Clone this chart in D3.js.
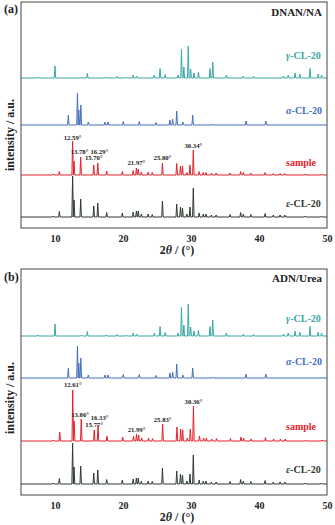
<!DOCTYPE html>
<html><head><meta charset="utf-8">
<script src="https://cdn.jsdelivr.net/npm/d3@7"></script>
<style>
html,body{margin:0;padding:0;background:#fff;}
text{font-family:"Liberation Serif","Times New Roman",serif;font-weight:bold;}
</style></head>
<body>
<svg id="chart" width="335" height="525"></svg>
<script>
// ---- data (2θ in degrees, intensity in a.u.) ----
const xTicks = [10, 20, 30, 40, 50];
const gammaPos = [7.5, 10.0, 13.9, 14.75, 17.5, 19.1, 20.5, 21.5, 22.0, 24.6, 25.45, 26.2, 28.1, 28.6, 28.95, 29.6, 29.95, 30.45, 31.1, 32.8, 33.2, 35.2, 37.7, 39.2, 43.6, 44.3, 45.3, 46.0, 47.5, 48.7, 49.2];
const gammaInt = [1, 12, 1, 4.5, 1, 1.5, 1, 3, 2, 3, 9.5, 3.5, 3, 28.5, 11, 32, 9, 5, 6, 9.5, 16, 3, 2, 1.5, 2, 3, 5, 4, 9.5, 4, 3];
const alphaPos = [11.96, 13.3, 13.5, 13.8, 14.9, 17.35, 17.8, 20.05, 22.4, 24.85, 26.9, 27.3, 27.9, 28.8, 30.25, 33.2, 38.1, 41.0];
const alphaInt = [9.7, 32, 15, 20, 3, 3, 3, 3.5, 3.5, 2.5, 5, 6, 14, 3, 10, 1, 4, 4];
const epsPos = [9.75, 10.64, 12.59, 12.8, 13.78, 15.70, 16.29, 17.6, 19.9, 21.5, 21.97, 22.25, 22.7, 23.7, 24.3, 25.80, 27.9, 28.45, 28.75, 29.4, 29.85, 30.34, 31.2, 31.8, 32.2, 33.0, 33.7, 35.75, 37.3, 37.7, 38.8, 40.9, 42.1, 43.1, 43.8, 46.8, 49.2];
const epsInt = [1, 5.5, 41, 17, 18, 11, 14, 4.5, 4, 5, 6, 6, 3, 3, 2.5, 16, 13, 10, 9, 3, 10, 29, 4, 3, 3, 2, 2, 2.5, 4.5, 3, 2.5, 3.5, 2, 2, 2, 1, 1];
const sampleAPos = [9.75, 10.64, 12.59, 12.8, 13.78, 15.70, 16.29, 17.6, 19.9, 21.5, 21.97, 22.25, 22.7, 23.7, 24.3, 25.80, 27.9, 28.45, 28.75, 29.4, 29.85, 30.34, 31.2, 31.8, 32.2, 33.0, 33.7, 35.75, 37.3, 37.7, 38.8, 40.9, 42.1, 43.1, 43.8, 46.8, 49.2];
const sampleAInt = [1, 3.5, 34, 14, 18, 10, 12, 4, 3.5, 4.5, 7, 6, 3, 3, 2.5, 12, 11.5, 9, 9, 2.5, 10, 25, 3.5, 2.5, 2.5, 2, 2, 2, 3.5, 2.5, 2, 2.5, 1.5, 1.5, 1.5, 1, 1];
const sampleBPos = [9.75, 10.7, 12.61, 12.82, 13.86, 15.77, 16.33, 17.65, 19.95, 21.55, 21.99, 22.3, 22.75, 23.75, 24.35, 25.83, 27.93, 28.48, 28.78, 29.45, 29.9, 30.36, 31.25, 31.85, 32.25, 33.05, 33.75, 35.8, 37.35, 37.75, 38.85, 40.95, 42.15, 43.15, 43.85, 46.85, 49.25];
const sampleBInt = [1, 9, 51, 20, 22, 11, 16, 5, 4, 5, 7, 6, 3, 3, 2.5, 17, 14, 12, 11, 3, 12, 35, 5, 3, 3, 2, 2.5, 2.5, 4, 3, 2, 3.5, 2, 2, 2, 1, 1];
const labelsA = ["12.59°", "13.78°", "16.29°", "15.70°", "21.97°", "25.80°", "30.34°"];
const labelsAPos = [12.59, 13.78, 16.29, 15.70, 21.97, 25.80, 30.34];
const labelsALevel = [35.5, 21, 21, 15, 10, 15, 27.5];
const labelsB = ["12.61°", "13.86°", "16.33°", "15.77°", "21.99°", "25.83°", "30.36°"];
const labelsBPos = [12.61, 13.86, 16.33, 15.77, 21.99, 25.83, 30.36];
const labelsBLevel = [54, 24.5, 21, 14.5, 9.5, 19.5, 37];
const seriesNames = ["γ-CL-20", "α-CL-20", "sample", "ε-CL-20"];
const seriesColors = ["#3aa8a7", "#4470c0", "#e3222b", "#2d3a30"];

// ---- layout ----
const svg = d3.select("#chart");
const x = d3.scaleLinear().domain([5, 50]).range([21, 327]);
const halfW = 0.11;
const line = d3.line().x(d => x(d[0]));
const labelNudge = [0, -1.2, 1.5, 0, 0, 0, 0];

function profile(pos, inten) {
  const pts = [[5, 0]];
  pos.forEach((p, i) => { pts.push([p - halfW, 0], [p, inten[i]], [p + halfW, 0]); });
  pts.push([50, 0]);
  return pts;
}

const panels = [
  {top: 2, bottom: 228, tag: "(a)", tagY: 13, title: "DNAN/NA", titleY: 16,
   offsets: [150, 103, 53, 11], nameLevels: [19.5, 11.5, 9, 10.5],
   data: [[gammaPos, gammaInt], [alphaPos, alphaInt], [sampleAPos, sampleAInt], [epsPos, epsInt]],
   labels: labelsA, labelsPos: labelsAPos, labelsLevel: labelsALevel, ylabY: 135},
  {top: 269, bottom: 495, tag: "(b)", tagY: 281, title: "ADN/Urea", titleY: 282,
   offsets: [159, 117, 54, 11], nameLevels: [14.5, 13, 11, 11],
   data: [[gammaPos, gammaInt], [alphaPos, alphaInt], [sampleBPos, sampleBInt], [epsPos, epsInt]],
   labels: labelsB, labelsPos: labelsBPos, labelsLevel: labelsBLevel, ylabY: 398}
];

panels.forEach(P => {
  const g = svg.append("g");
  const y = d3.scaleLinear().domain([0, P.bottom - P.top]).range([P.bottom, P.top]);
  P.data.forEach((d, k) => {
    const off = P.offsets[k];
    g.append("path")
      .attr("d", line.y(p => y(p[1] + off))(profile(d[0], d[1])))
      .attr("fill", "none").attr("stroke", seriesColors[k]).attr("stroke-width", 1)
      .attr("stroke-linejoin", "round");
    const t = g.append("text").attr("x", 286).attr("y", y(off + P.nameLevels[k]))
      .attr("font-size", 10).attr("fill", seriesColors[k]);
    if (k === 2) t.text(seriesNames[k]);
    else {
      t.append("tspan").attr("font-style", "italic").text(seriesNames[k][0]);
      t.append("tspan").text(seriesNames[k].slice(1));
    }
  });
  P.labels.forEach((l, i) => {
    g.append("text").attr("x", x(P.labelsPos[i])).attr("dx", labelNudge[i])
      .attr("y", y(P.offsets[2] + P.labelsLevel[i]))
      .attr("text-anchor", "middle").attr("font-size", 6.7).attr("fill", "#222").text(l);
  });
  g.append("rect").attr("x", x(5)).attr("y", P.top).attr("width", x(50) - x(5))
    .attr("height", P.bottom - P.top).attr("fill", "none").attr("stroke", "#444").attr("stroke-width", 1);
  const ax = g.append("g").attr("transform", `translate(0,${P.bottom})`)
    .call(d3.axisBottom(x).tickValues(xTicks).tickSize(0).tickPadding(7).tickFormat(d3.format("d")));
  ax.select(".domain").remove();
  ax.selectAll("text").attr("font-size", 10).attr("fill", "#222")
    .style("font-family", "'Liberation Serif',serif").style("font-weight", "bold");
  const xt = g.append("text").attr("x", 177).attr("y", P.bottom + 26).attr("text-anchor", "middle")
    .attr("font-size", 12).attr("fill", "#222");
  xt.append("tspan").text("2");
  xt.append("tspan").attr("font-style", "italic").text("θ");
  xt.append("tspan").text(" / (°)");
  g.append("text").attr("transform", `translate(14,${P.ylabY}) rotate(-90)`).attr("text-anchor", "middle")
    .attr("font-size", 12).attr("fill", "#222").text("intensity / a.u.");
  g.append("text").attr("x", 4).attr("y", P.tagY).attr("font-size", 12).attr("fill", "#222").text(P.tag);
  g.append("text").attr("x", 322).attr("y", P.titleY).attr("text-anchor", "end")
    .attr("font-size", 11).attr("fill", "#222").text(P.title);
});
</script>
</body></html>
